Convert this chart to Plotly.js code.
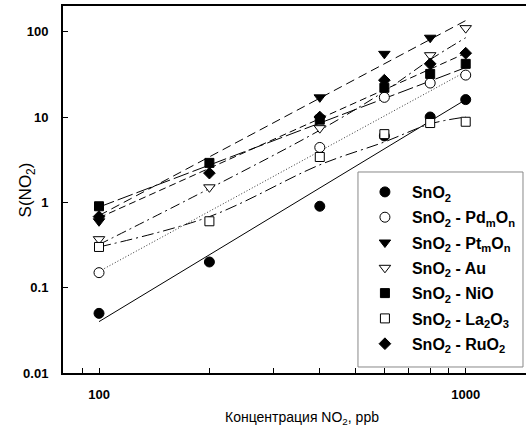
<!DOCTYPE html>
<html>
<head>
<meta charset="utf-8">
<script src="https://cdn.plot.ly/plotly-3.0.1.min.js"></script>
<style>html,body{margin:0;padding:0;background:#fff;overflow:hidden}</style>
</head>
<body>
<div id="chart" style="width:526px;height:436px"></div>
<script>
// ---- data ----
const conc = [100, 200, 400, 600, 800, 1000];
const names = ['SnO<sub>2</sub>', 'SnO<sub>2</sub> - Pd<sub>m</sub>O<sub>n</sub>', 'SnO<sub>2</sub> - Pt<sub>m</sub>O<sub>n</sub>',
  'SnO<sub>2</sub> - Au', 'SnO<sub>2</sub> - NiO', 'SnO<sub>2</sub> - La<sub>2</sub>O<sub>3</sub>', 'SnO<sub>2</sub> - RuO<sub>2</sub>'];
const sSnO2 = [0.05, 0.2, 0.9, 6, 10, 16];
const sPd   = [0.15, null, 4.4, 17, 25, 31];
const sPt   = [0.6, null, 17, 55, 85, null];
const sAu   = [0.37, 1.5, 7.4, null, 53, 110];
const sNiO  = [0.9, 2.9, 9.3, 22, 32, 42];
const sLa   = [0.3, 0.6, 3.4, 6.3, 8.5, 8.8];
const sRu   = [0.68, 2.2, 10, 27, 42, 56];

// fitted lines
const fitX2 = [100, 1000];
const fitSnO2 = [0.04, 16];
const fitPd   = [0.155, 34];
const fitPt   = [0.7, 135];
const fitNiO  = [0.88, 38];
const fitRu   = [0.66, 56];
const fitAu   = [0.32, 1.45, 7.0, 20, 47, 85];
const fitLa   = [0.30, 0.68, 2.75, 5.1, 8.3, 10];

const xTicks = [90, 100, 200, 300, 400, 500, 600, 700, 800, 900, 1000];
const xTickText = ['', '100', '', '', '', '', '', '', '', '', '1000'];
const yTicks = [0.01, 0.1, 1, 10, 100];
const yTickText = ['0.01', '0.1', '1', '10', '100'];

const FONT = 'Liberation Sans, Arial, sans-serif';

// ---- traces ----
function fit(x, y, dash, color, shape) {
  return {x: x, y: y, mode: 'lines', showlegend: false, hoverinfo: 'skip',
    line: {color: color || '#000', width: 1, dash: dash, shape: shape || 'linear'}};
}
const traces = [
  fit(fitX2, fitSnO2, 'solid'),
  fit(fitX2, fitPd, '1px,2px', '#333'),
  fit(fitX2, fitPt, '9px,5px'),
  fit(conc, fitAu, '10px,4px,2px,4px', '#000', 'spline'),
  fit(fitX2, fitNiO, '16px,4px'),
  fit(conc, fitLa, '12px,4px,2px,4px', '#000', 'spline'),
  fit(fitX2, fitRu, '7px,4px'),
];
function pts(y, name, symbol, filled, size, grp) {
  return {x: conc, y: y, name: name, mode: 'markers', legendgroup: grp,
    marker: {symbol: symbol, size: size, color: filled ? '#000' : '#fff',
      line: {color: '#000', width: 1}}};
}
traces.push(pts(sSnO2, names[0], 'circle', true, 10, 'a'));
traces.push(pts(sPd, names[1], 'circle', false, 10, 'b'));
traces.push(pts(sPt, names[2], 'triangle-down', true, 10, 'c'));
traces.push(pts(sAu, names[3], 'triangle-down', false, 10, 'd'));
traces.push(pts(sNiO, names[4], 'square', true, 9, 'e'));
traces.push(pts(sLa, names[5], 'square', false, 9, 'f'));
traces.push(pts(sRu, names[6], 'diamond', true, 9, 'g'));

const layout = {
  width: 526, height: 436,
  margin: {l: 63, r: 0, t: 6, b: 63, pad: 0},
  paper_bgcolor: '#fff', plot_bgcolor: '#fff',
  font: {family: FONT, color: '#000'},
  showlegend: true,
  xaxis: {
    type: 'log', range: [1.9018, 3.1644],
    tickvals: xTicks, ticktext: xTickText,
    ticks: 'inside', ticklen: 5, tickwidth: 1, tickcolor: '#000',
    showline: true, linewidth: 2, linecolor: '#000', mirror: true,
    showgrid: false, zeroline: false,
    tickfont: {size: 13, family: FONT, weight: 'bold'},
    ticklabelstandoff: 8
  },
  yaxis: {
    type: 'log', range: [-2, 2.301],
    tickvals: yTicks, ticktext: yTickText,
    ticks: 'inside', ticklen: 5, tickwidth: 1, tickcolor: '#000',
    showline: true, linewidth: 2, linecolor: '#000',
    showgrid: false, zeroline: false,
    tickfont: {size: 13, family: FONT, weight: 'bold'},
    ticklabelstandoff: 10
  },
  legend: {
    x: 0.637, xanchor: 'left', y: 0.5395, yanchor: 'top',
    bgcolor: 'rgba(0,0,0,0)', borderwidth: 0,
    font: {size: 16, family: FONT, weight: 'bold'},
    tracegroupgap: 1.5, itemwidth: 44
  },
  shapes: [
    {type: 'rect', xref: 'paper', yref: 'paper', layer: 'above',
     x0: 0.6371, x1: 0.9935, y0: 0.01635, y1: 0.5477,
     fillcolor: '#fff', line: {color: '#888', width: 1}}
  ],
  annotations: [
    {text: 'Концентрация NO<sub>2</sub>, ppb', xref: 'paper', yref: 'paper',
     x: 0.516, y: -0.1226, xanchor: 'center', yanchor: 'middle', showarrow: false,
     font: {size: 14, family: FONT}},
    {text: 'S(NO<sub>2</sub>)', xref: 'paper', yref: 'paper', textangle: -90,
     x: -0.078, y: 0.5, xanchor: 'center', yanchor: 'middle', showarrow: false,
     font: {size: 17, family: FONT}}
  ]
};
Plotly.newPlot('chart', traces, layout, {displayModeBar: false, staticPlot: true});
</script>
</body>
</html>
